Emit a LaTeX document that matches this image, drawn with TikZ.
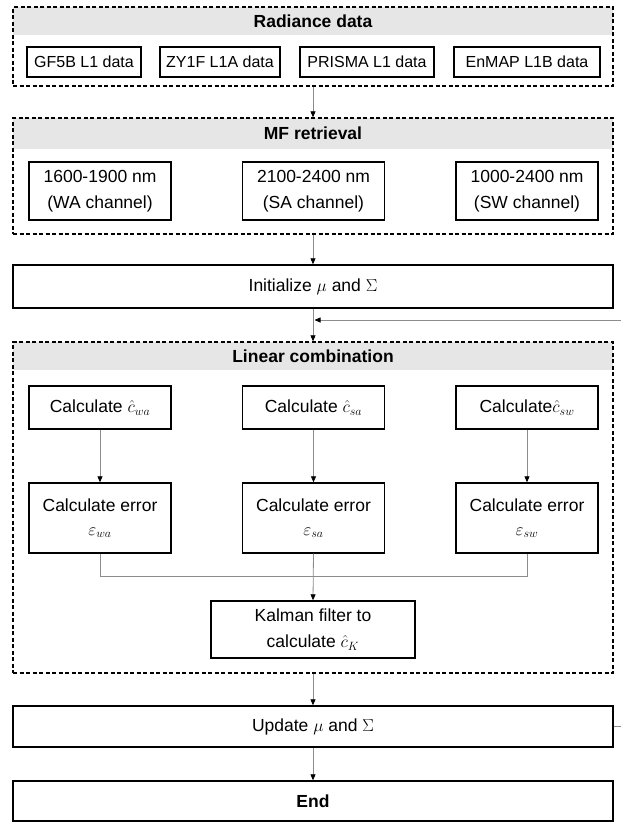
\documentclass[tikz,border=0pt]{standalone}
\usepackage{fontspec}
\setmainfont{Liberation Sans}
\usetikzlibrary{arrows.meta}
\definecolor{headgray}{RGB}{230,230,230}
\definecolor{linegray}{RGB}{140,140,140}
\begin{document}
\begin{tikzpicture}[x=1pt,y=-1pt,
  box/.style={draw=black, line width=1.4pt, fill=white, inner sep=0pt, align=center, font=\fontsize{17.5}{24}\selectfont},
  twoline/.style={box, font=\fontsize{17.5}{26}\selectfont},
  smallbox/.style={box, font=\fontsize{16}{20}\selectfont},
  container/.style={draw=black, line width=1.4pt, dash pattern=on 4pt off 2.5pt, inner sep=0pt},
  header/.style={fill=headgray, inner sep=0pt, font=\fontsize{17.5}{20}\selectfont\bfseries},
  conn/.style={draw=linegray, line width=0.8pt, -{Triangle[length=6pt,width=5pt,color=black]}},
  plain/.style={draw=linegray, line width=0.8pt},
]
\useasboundingbox (0,0) rectangle (621,823);

% ---------- Radiance data ----------
\node[header, minimum width=600pt, minimum height=28pt] (radh) at (313,21) {Radiance data};
\node[container, minimum width=600pt, minimum height=79pt] (rad) at (313,46.5) {};
\node[smallbox, minimum width=114pt, minimum height=30pt] (gf) at (84,62) {GF5B L1 data};
\node[smallbox, minimum width=120pt, minimum height=30pt] (zy) at (220,62) {ZY1F L1A data};
\node[smallbox, minimum width=134pt, minimum height=30pt] (pr) at (367,62) {PRISMA L1 data};
\node[smallbox, minimum width=146pt, minimum height=30pt] (en) at (527,62) {EnMAP L1B data};

% ---------- MF retrieval ----------
\node[header, minimum width=600pt, minimum height=31pt] (mfh) at (313,133.5) {MF retrieval};
\node[container, minimum width=600pt, minimum height=116pt] (mf) at (313,176) {};
\node[twoline, minimum width=142pt, minimum height=58pt] (wa) at (100,191) {1600-1900 nm\\(WA channel)};
\node[twoline, minimum width=142pt, minimum height=58pt] (sa) at (313.5,191) {2100-2400 nm\\(SA channel)};
\node[twoline, minimum width=142pt, minimum height=58pt] (sw) at (527,191) {1000-2400 nm\\(SW channel)};

% ---------- Initialize ----------
\node[box, minimum width=600pt, minimum height=43pt] (init) at (313,286.5) {Initialize $\mu$ and $\Sigma$};

% ---------- Linear combination ----------
\node[header, minimum width=600pt, minimum height=28pt] (linh) at (313,356) {Linear combination};
\node[container, minimum width=600pt, minimum height=331pt] (lin) at (313,507.5) {};
\node[box, minimum width=142pt, minimum height=43pt] (cwa) at (100,407.5) {Calculate $\hat{c}_{wa}$};
\node[box, minimum width=142pt, minimum height=43pt] (csa) at (313.5,407.5) {Calculate $\hat{c}_{sa}$};
\node[box, minimum width=142pt, minimum height=43pt] (csw) at (527,407.5) {Calculate$\hat{c}_{sw}$};
\node[box, minimum width=142pt, minimum height=70pt] (ewa) at (100,518) {Calculate error\\$\varepsilon_{wa}$};
\node[box, minimum width=142pt, minimum height=70pt] (esa) at (313.5,518) {Calculate error\\$\varepsilon_{sa}$};
\node[box, minimum width=142pt, minimum height=70pt] (esw) at (527,518) {Calculate error\\$\varepsilon_{sw}$};
\node[twoline, minimum width=204pt, minimum height=57pt] (kal) at (313,629.5) {Kalman filter to\\calculate $\hat{c}_K$};

% ---------- Update / End ----------
\node[box, minimum width=600pt, minimum height=41pt] (upd) at (313,726.5) {Update $\mu$ and $\Sigma$};
\node[box, minimum width=600pt, minimum height=40pt, font=\fontsize{17.5}{20}\selectfont\bfseries] (end) at (313,801) {End};

% ---------- connectors ----------
\draw[conn] (rad.south) -- (mf.north);
\draw[conn] (mf.south) -- (init.north);
\draw[conn] (init.south) -- (lin.north);
\draw[conn] (lin.south) -- (upd.north);
\draw[conn] (upd.south) -- (end.north);

\draw[conn] (cwa.south) -- (ewa.north);
\draw[conn] (csa.south) -- (esa.north);
\draw[conn] (csw.south) -- (esw.north);

\coordinate (mj) at (313,576);
\draw[plain] (ewa.south) |- (esw.south |- mj) -- (esw.south);
\draw[conn] (esa.south) -- (kal.north);

% feedback loop (leaves the visible area on the right)
\coordinate (fb) at (314.5,320);
\begin{scope}
  \clip (0,0) rectangle (621,823);
  \draw[conn] (upd.east) -- ++(30,0) |- (fb);
\end{scope}
\end{tikzpicture}
\end{document}
